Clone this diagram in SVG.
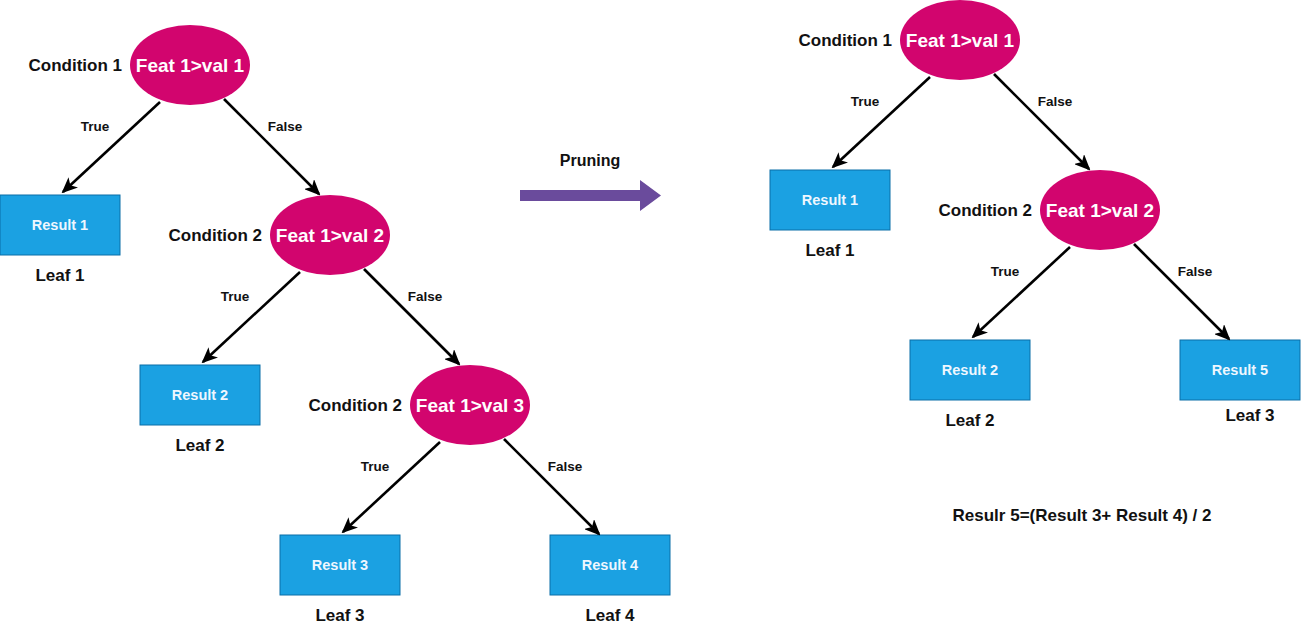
<svg xmlns="http://www.w3.org/2000/svg" width="1301" height="627" viewBox="0 0 1301 627">
<defs>
<marker id="arr" viewBox="0 0 16 14" refX="14" refY="7" markerWidth="16" markerHeight="14" markerUnits="userSpaceOnUse" orient="auto">
<path d="M0,0 L16,7 L0,14 L4,7 Z" fill="#000"/>
</marker>
<style>
text{font-family:"Liberation Sans",Arial,sans-serif;font-weight:bold;dominant-baseline:central}
.cond{fill:#D2056E}
.ct{fill:#fff;font-size:19px;text-anchor:middle}
.cl{fill:#111;font-size:17px;text-anchor:end}
.res{fill:#1BA1E2;stroke:#0A6FA8;stroke-width:1}
.rt{fill:#EEF7FF;font-size:14.5px;text-anchor:middle}
.leaf{fill:#111;font-size:17px;text-anchor:middle}
.el{fill:#111;font-size:13.5px;text-anchor:middle}
.edge{stroke:#000;stroke-width:2.6;fill:none;marker-end:url(#arr)}
</style>
</defs>
<rect width="1301" height="627" fill="#fff"/>

<!-- Left tree -->
<g id="l-c1"><ellipse class="cond" cx="190" cy="65" rx="60" ry="40"/><text class="ct" x="190" y="65">Feat 1&gt;val 1</text><text class="cl" x="122" y="65">Condition 1</text></g>
<g id="l-r1"><rect class="res" x="0" y="195" width="120" height="60"/><text class="rt" x="60" y="225">Result 1</text><text class="leaf" x="60" y="275">Leaf 1</text></g>
<g id="l-c2"><ellipse class="cond" cx="330" cy="235" rx="60" ry="40"/><text class="ct" x="330" y="235">Feat 1&gt;val 2</text><text class="cl" x="262" y="235">Condition 2</text></g>
<g id="l-r2"><rect class="res" x="140" y="365" width="120" height="60"/><text class="rt" x="200" y="395">Result 2</text><text class="leaf" x="200" y="445">Leaf 2</text></g>
<g id="l-c3"><ellipse class="cond" cx="470" cy="405" rx="60" ry="40"/><text class="ct" x="470" y="405">Feat 1&gt;val 3</text><text class="cl" x="402" y="405">Condition 2</text></g>
<g id="l-r3"><rect class="res" x="280" y="535" width="120" height="60"/><text class="rt" x="340" y="565">Result 3</text><text class="leaf" x="340" y="615">Leaf 3</text></g>
<g id="l-r4"><rect class="res" x="550" y="535" width="120" height="60"/><text class="rt" x="610" y="565">Result 4</text><text class="leaf" x="610" y="615">Leaf 4</text></g>

<!-- Pruning arrow -->
<g id="pruning">
<text x="590" y="160" style="font-size:16px;text-anchor:middle;fill:#111">Pruning</text>
<path d="M520,190 L640,190 L640,180 L661,195.5 L640,211 L640,201 L520,201 Z" fill="#6A4B9C"/>
</g>

<!-- Right tree -->
<g id="r-c1"><ellipse class="cond" cx="960" cy="40" rx="60" ry="40"/><text class="ct" x="960" y="40">Feat 1&gt;val 1</text><text class="cl" x="892" y="40">Condition 1</text></g>
<g id="r-r1"><rect class="res" x="770" y="170" width="120" height="60"/><text class="rt" x="830" y="200">Result 1</text><text class="leaf" x="830" y="250">Leaf 1</text></g>
<g id="r-c2"><ellipse class="cond" cx="1100" cy="210" rx="60" ry="40"/><text class="ct" x="1100" y="210">Feat 1&gt;val 2</text><text class="cl" x="1032" y="210">Condition 2</text></g>
<g id="r-r2"><rect class="res" x="910" y="340" width="120" height="60"/><text class="rt" x="970" y="370">Result 2</text><text class="leaf" x="970" y="420">Leaf 2</text></g>
<g id="r-r5"><rect class="res" x="1180" y="340" width="120" height="60"/><text class="rt" x="1240" y="370">Result 5</text><text class="leaf" x="1250" y="415">Leaf 3</text></g>
<g id="formula"><text x="1082" y="515" style="font-size:17px;text-anchor:middle;fill:#111">Resulr 5=(Result 3+ Result 4) / 2</text></g>

<!-- Connectors -->
<g id="edges">
<line class="edge" x1="160" y1="102" x2="63" y2="192"/>
<line class="edge" x1="224" y1="99" x2="319" y2="194"/>
<line class="edge" x1="300" y1="272" x2="203" y2="362"/>
<line class="edge" x1="364" y1="269" x2="459" y2="364"/>
<line class="edge" x1="440" y1="442" x2="343" y2="532"/>
<line class="edge" x1="504" y1="439" x2="599" y2="534"/>
<line class="edge" x1="930" y1="77" x2="833" y2="167"/>
<line class="edge" x1="994" y1="74" x2="1089" y2="169"/>
<line class="edge" x1="1070" y1="247" x2="973" y2="337"/>
<line class="edge" x1="1134" y1="244" x2="1229" y2="339"/>
<text class="el" x="95" y="126">True</text>
<text class="el" x="285" y="126">False</text>
<text class="el" x="235" y="296">True</text>
<text class="el" x="425" y="296">False</text>
<text class="el" x="375" y="466">True</text>
<text class="el" x="565" y="466">False</text>
<text class="el" x="865" y="101">True</text>
<text class="el" x="1055" y="101">False</text>
<text class="el" x="1005" y="271">True</text>
<text class="el" x="1195" y="271">False</text>
</g>
</svg>
